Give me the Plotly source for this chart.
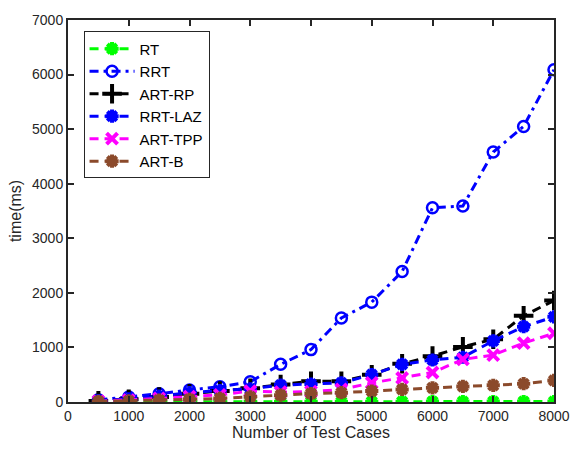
import plotly.graph_objects as go

test_cases = [500, 1000, 1500, 2000, 2500, 3000, 3500, 4000, 4500, 5000, 5500, 6000, 6500, 7000, 7500, 8000]
rt = [1, 2, 2, 3, 3, 4, 4, 5, 5, 6, 6, 7, 7, 8, 8, 9]
rrt = [40, 90, 150, 220, 280, 370, 690, 960, 1540, 1830, 2390, 3560, 3590, 4580, 5050, 6090]
art_rp = [20, 50, 90, 150, 200, 250, 320, 380, 380, 500, 700, 840, 1010, 1150, 1580, 1860]
rrt_laz = [25, 60, 110, 170, 210, 240, 310, 330, 350, 500, 690, 770, 820, 1120, 1380, 1560]
art_tpp = [15, 35, 65, 100, 130, 200, 180, 190, 230, 350, 440, 540, 780, 860, 1080, 1260]
art_b = [10, 20, 35, 50, 65, 95, 125, 155, 170, 200, 230, 260, 285, 305, 335, 395]

x_ticks = [0, 1000, 2000, 3000, 4000, 5000, 6000, 7000, 8000]
y_ticks = [0, 1000, 2000, 3000, 4000, 5000, 6000, 7000]

series = [
    ("RT", rt, "#00ff00", "9px,6px", "asterisk-open", 11, 4),
    ("RRT", rrt, "#0000ff", "9px,5px,3px,5px", "circle-open", 11, 2.5),
    ("ART-RP", art_rp, "#000000", "9px,6px", "cross-thin-open", 14, 4),
    ("RRT-LAZ", rrt_laz, "#0000ff", "9px,6px", "asterisk-open", 11, 4),
    ("ART-TPP", art_tpp, "#ff00ff", "9px,6px", "x-thin-open", 11, 4),
    ("ART-B", art_b, "#8b4a2b", "9px,6px", "asterisk-open", 11, 4),
]

fig = go.Figure()
for name, vals, color, dash, sym, size, mlw in series:
    fig.add_trace(go.Scatter(
        x=test_cases, y=vals, name=name, mode="lines+markers",
        line=dict(color=color, width=3, dash=dash),
        marker=dict(symbol=sym, size=size, color=color,
                    line=dict(color=color, width=mlw)),
    ))

font_family = "Liberation Sans, Arial, sans-serif"
axis_common = dict(
    showline=True, linecolor="#262626", linewidth=2, mirror="ticks",
    ticks="inside", ticklen=6, tickwidth=1.5, tickcolor="#262626",
    showgrid=False, zeroline=False,
    tickfont=dict(family=font_family, size=14, color="#262626"),
)

fig.update_layout(
    width=582, height=453,
    margin=dict(l=68, r=16, t=12, b=51),
    paper_bgcolor="white", plot_bgcolor="white",
    xaxis=dict(range=[0, 8000], tickvals=x_ticks,
               title=dict(text="Number of Test Cases", standoff=4,
                          font=dict(family=font_family, size=16, color="#262626")),
               **axis_common),
    yaxis=dict(range=[0, 7000], tickvals=y_ticks,
               title=dict(text="time(ms)", standoff=6,
                          font=dict(family=font_family, size=16, color="#262626")),
               **axis_common),
    legend=dict(x=0.032, y=0.97, xanchor="left", yanchor="top",
                bgcolor="white", bordercolor="#262626", borderwidth=1,
                tracegroupgap=0, itemwidth=45,
                font=dict(family=font_family, size=15, color="#000000")),
    showlegend=True,
)

fig.write_html("out.html")
